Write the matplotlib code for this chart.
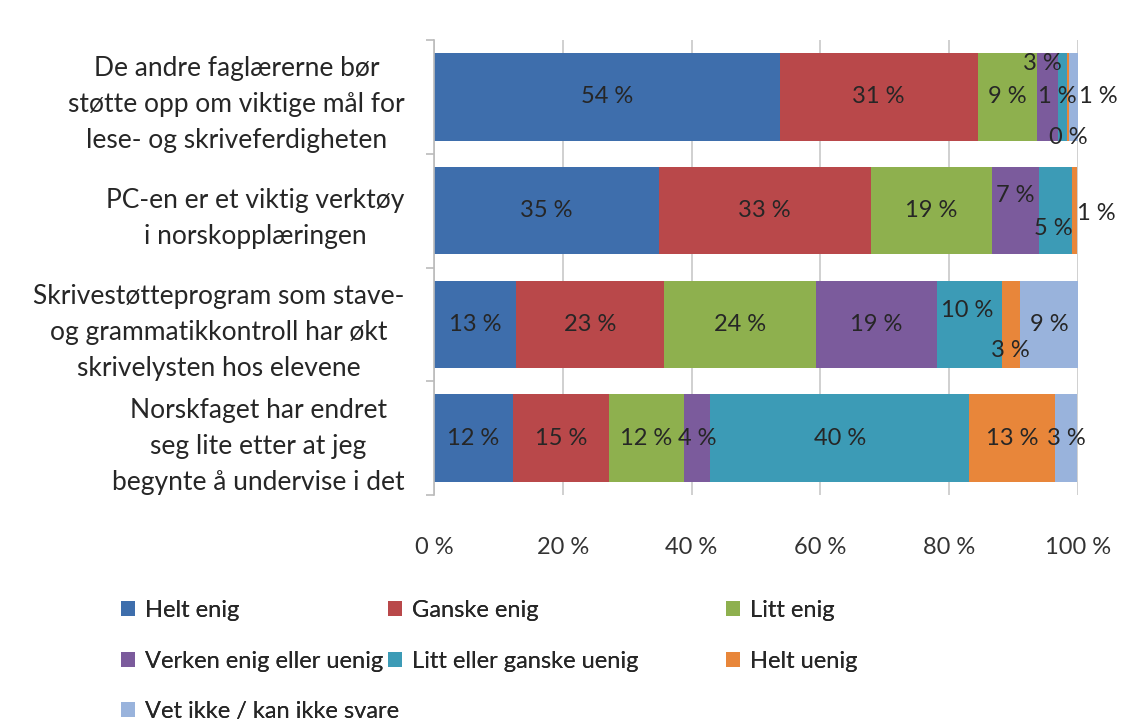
import matplotlib
matplotlib.use("Agg")
import matplotlib.pyplot as plt
import numpy as np

plt.rcParams['font.family'] = ['Lato', 'DejaVu Sans']

categories = [
    "De andre faglærerne bør\nstøtte opp om viktige mål for\nlese- og skriveferdigheten",
    "PC-en er et viktig verktøy\ni norskopplæringen",
    "Skrivestøtteprogram som stave-\nog grammatikkontroll har økt\nskrivelysten hos elevene",
    "Norskfaget har endret\nseg lite etter at jeg\nbegynte å undervise i det",
]
series_names = ["Helt enig", "Ganske enig", "Litt enig", "Verken enig eller uenig",
                "Litt eller ganske uenig", "Helt uenig", "Vet ikke / kan ikke svare"]

# percentages per category (labels show rounded values)
helt_enig = [53.7, 34.9, 12.7, 12.3]
ganske_enig = [30.7, 32.9, 23.0, 14.9]
litt_enig = [9.2, 18.9, 23.6, 11.6]
verken = [3.3, 7.3, 18.8, 4.1]
litt_eller_ganske_uenig = [1.4, 5.1, 10.1, 40.2]
helt_uenig = [0.3, 0.8, 2.8, 13.4]
vet_ikke = [1.4, 0.0, 9.0, 3.4]

colors = ["#3E6EAC", "#B9484A", "#8EB04E", "#7B5B9C", "#3C9BB6", "#E8863A", "#99B3DC"]

series = [helt_enig, ganske_enig, litt_enig, verken, litt_eller_ganske_uenig, helt_uenig, vet_ikke]
data = np.array(series, dtype=float)  # shape (7, 4)

# label offsets in pixels (dx, dy; dy positive = up) for crowded small segments
label_offsets = {
    (3, 0): (-5, 33), (4, 0): (-5, 0), (5, 0): (0, -41), (6, 0): (25, 0),
    (3, 1): (-1, 15), (4, 1): (-2, -18), (5, 1): (22, -3),
    (4, 2): (-2, 14), (5, 2): (-1, -26),
}

fig = plt.figure(figsize=(11.3, 7.24), dpi=100)
ax = fig.add_axes([434/1130, 1-495/724, (1078-434)/1130, (495-40)/724])

y = np.arange(len(categories))
left = np.zeros(len(categories))
handles = []
for i, (name, vals) in enumerate(zip(series_names, data)):
    bars = ax.barh(y, vals, left=left, height=0.77, color=colors[i], label=name, zorder=3)
    handles.append(bars)
    for j in range(len(categories)):
        v = vals[j]
        if v > 0:
            cx = left[j] + v / 2
            dx, dy = label_offsets.get((i, j), (0, 0))
            ax.annotate(f"{int(round(v))} %", (cx, y[j]), xytext=(dx * 0.72, dy * 0.72),
                        textcoords="offset points", ha="center", va="center",
                        fontsize=17, color="#262626", zorder=5, annotation_clip=False)
        left[j] += v

ax.set_xlim(0, 100)
ax.set_ylim(len(categories) - 0.5, -0.5)
ax.set_xticks(np.arange(0, 101, 20))
ax.set_xticklabels([f"{v} %" for v in range(0, 101, 20)], fontsize=17, color="#333333")
ax.tick_params(axis="x", length=0, pad=30)
ax.set_yticks(y)
ax.set_yticklabels(categories, fontsize=19, color="#262626", multialignment="center",
                   linespacing=1.55)
ax.tick_params(axis="y", which="major", length=0, pad=21)
for lbl in ax.get_yticklabels():
    lbl.set_y(lbl.get_position()[1])
ax.set_yticks(np.arange(-0.5, len(categories), 1), minor=True)
ax.tick_params(axis="y", which="minor", length=6, color="#BBBBBB", width=1.2)
ax.grid(axis="x", color="#C8C8C8", linewidth=1.2, zorder=0)
for s in ["top", "right", "bottom"]:
    ax.spines[s].set_visible(False)
ax.spines["left"].set_color("#BBBBBB")
ax.spines["left"].set_linewidth(1.2)
ax.spines["left"].set_zorder(4)

legend_columns = [([0, 3, 6], 121), ([1, 4], 388), ([2, 5], 726)]
for idxs, xpix in legend_columns:
    leg = fig.legend([handles[k] for k in idxs], [series_names[k] for k in idxs],
                     loc="upper left", bbox_to_anchor=(xpix/1130, 1-600/724), ncol=1,
                     frameon=False, fontsize=17, handlelength=0.6, handleheight=0.6,
                     handletextpad=0.4, labelspacing=1.25,
                     labelcolor="#262626", borderaxespad=0, borderpad=0)
    fig.add_artist(leg)

fig.savefig("out.png", dpi=100)
